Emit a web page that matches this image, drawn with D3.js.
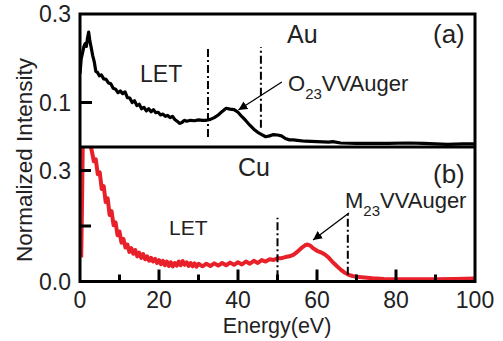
<!DOCTYPE html>
<html>
<head>
<meta charset="utf-8">
<script src="https://cdn.jsdelivr.net/npm/d3@7"></script>
<style>
  body { margin: 0; background: #fff; }
  svg { display: block; font-family: "Liberation Sans", Arial, sans-serif; }
</style>
</head>
<body>
<div id="chart"></div>
<script>
// Au (a) spectrum, black
const auEnergy = [0, 0.3, 0.6, 1.0, 1.3, 1.6, 1.9, 2.2, 2.5, 2.8, 3.2, 3.6, 4.0, 4.4, 4.9, 5.4, 6.0, 6.6, 7.2, 7.8, 8.4, 9.0, 9.6, 10.2, 10.8, 11.4, 12.0, 12.6, 13.2, 13.8, 14.4, 15.0, 15.6, 16.2, 16.8, 17.4, 18.0, 18.6, 19.2, 19.8, 20.4, 21.0, 21.6, 22.2, 22.8, 23.4, 24.0, 24.6, 25.2, 25.8, 26.4, 27.0, 28, 29, 30, 31, 32, 33, 34, 35, 36, 37, 38, 39, 40, 41, 42, 43, 44, 45, 46, 47, 48, 49, 50, 51, 52, 53, 54, 55, 57, 60, 63, 64, 66, 70, 74, 78, 83, 87, 90, 93, 97, 100]
const auIntensity = [0.165, 0.198, 0.21, 0.226, 0.232, 0.226, 0.245, 0.258, 0.238, 0.225, 0.206, 0.192, 0.17, 0.168, 0.16, 0.162, 0.153, 0.152, 0.144, 0.142, 0.132, 0.13, 0.122, 0.126, 0.12, 0.124, 0.111, 0.11, 0.1, 0.104, 0.093, 0.096, 0.086, 0.089, 0.081, 0.086, 0.079, 0.084, 0.077, 0.078, 0.072, 0.074, 0.069, 0.071, 0.066, 0.069, 0.062, 0.058, 0.053, 0.055, 0.06, 0.058, 0.06, 0.059, 0.061, 0.06, 0.06, 0.062, 0.066, 0.072, 0.08, 0.087, 0.085, 0.084, 0.078, 0.068, 0.059, 0.049, 0.04, 0.033, 0.028, 0.023, 0.025, 0.028, 0.027, 0.025, 0.019, 0.016, 0.016, 0.015, 0.013, 0.012, 0.011, 0.012, 0.009, 0.008, 0.008, 0.008, 0.009, 0.008, 0.007, 0.006, 0.007, 0.007]

// Cu (b) spectrum, red
const cuEnergy = [0.3, 0.5, 0.7, 1.0, 1.5, 2.0, 2.5, 3.0, 3.5, 4.0, 4.5, 5.0, 5.5, 6.0, 6.5, 7.0, 7.5, 8.0, 8.5, 9.0, 9.5, 10.0, 10.5, 11.0, 11.5, 12.0, 12.5, 13.0, 13.5, 14.0, 14.5, 15.0, 15.5, 16.0, 16.5, 17.0, 17.5, 18.0, 18.5, 19.0, 19.5, 20.0, 20.5, 21, 21.5, 22, 22.5, 23, 23.5, 24, 24.5, 25, 25.5, 26, 26.5, 27, 27.5, 28, 28.5, 29, 29.5, 30, 31, 32, 33, 34, 35, 36, 37, 38, 39, 40, 41, 42, 43, 44, 45, 46, 47, 48, 49, 50, 51, 52, 53, 54, 55, 56, 57, 57.6, 58.3, 59, 60, 61, 62, 63, 64, 65, 66, 67, 68, 69, 70, 72, 74, 77, 80, 85, 90, 95, 100]
const cuIntensity = [0.065, 0.2, 0.37, 0.38, 0.38, 0.38, 0.375, 0.352, 0.325, 0.33, 0.29, 0.295, 0.25, 0.258, 0.215, 0.225, 0.18, 0.19, 0.152, 0.16, 0.125, 0.135, 0.105, 0.115, 0.092, 0.1, 0.08, 0.09, 0.075, 0.085, 0.068, 0.078, 0.064, 0.074, 0.06, 0.068, 0.056, 0.064, 0.054, 0.061, 0.05, 0.058, 0.047, 0.056, 0.044, 0.054, 0.042, 0.052, 0.041, 0.05, 0.043, 0.054, 0.044, 0.055, 0.045, 0.052, 0.042, 0.05, 0.041, 0.049, 0.04, 0.048, 0.041, 0.048, 0.042, 0.049, 0.043, 0.05, 0.044, 0.051, 0.045, 0.052, 0.046, 0.054, 0.048, 0.056, 0.05, 0.058, 0.054, 0.06, 0.058, 0.063, 0.063, 0.066, 0.068, 0.072, 0.08, 0.09, 0.098, 0.1, 0.097, 0.09, 0.083, 0.079, 0.073, 0.064, 0.052, 0.042, 0.032, 0.024, 0.018, 0.015, 0.013, 0.011, 0.009, 0.007, 0.006, 0.006, 0.006, 0.007, 0.008]

// axes ticks
const xMajor = [0, 20, 40, 60, 80, 100]
const xMinor = [10, 30, 50, 70, 90]
const topTicks = [0.1]
const topLabels = [0.1, 0.3]
const botTicks = [0.15, 0.3]
const botLabels = [0.0, 0.3]

// dash-dot markers  [energy, from, to]
const auMarks = [[32.4, 0.0225, 0.225], [45.8, 0.043, 0.225]]
const cuMarks = [[50, 0.009, 0.172], [67.8, 0.018, 0.185]]

const width = 503
const height = 341
const margin = { left: 80, right: 28, top: 14, mid: 147, bottom: 281.5 }

const svg = d3.select('#chart').append('svg')
  .attr('width', width)
  .attr('height', height)

svg.append('rect').attr('width', width).attr('height', height).attr('fill', '#fff')

const x = d3.scaleLinear().domain([0, 100]).range([margin.left, width - margin.right])
const yTop = d3.scaleLinear().domain([0, 0.3]).range([margin.mid, 13.5])
const yBot = d3.scaleLinear().domain([0, 0.3]).range([margin.bottom, 170.5])

// clip paths
const defs = svg.append('defs')
defs.append('clipPath').attr('id', 'clipTop').append('rect')
  .attr('x', x(0)).attr('y', margin.top).attr('width', x(100) - x(0)).attr('height', margin.mid - margin.top)
defs.append('clipPath').attr('id', 'clipBot').append('rect')
  .attr('x', x(0)).attr('y', margin.mid).attr('width', x(100) - x(0)).attr('height', margin.bottom - margin.mid)
defs.append('marker')
  .attr('id', 'arrow')
  .attr('viewBox', '0 0 10 10')
  .attr('refX', 10).attr('refY', 5)
  .attr('markerWidth', 9).attr('markerHeight', 9)
  .attr('markerUnits', 'userSpaceOnUse')
  .attr('orient', 'auto')
  .append('path').attr('d', 'M0,0 L10,5 L0,10 z').attr('fill', '#000')

// curves
const lineTop = d3.line().x(d => x(d[0])).y(d => yTop(d[1]))
const lineBot = d3.line().x(d => x(d[0])).y(d => yBot(d[1]))

svg.append('path')
  .datum(d3.zip(auEnergy, auIntensity))
  .attr('clip-path', 'url(#clipTop)')
  .attr('d', lineTop)
  .attr('fill', 'none')
  .attr('stroke', '#000')
  .attr('stroke-width', 3.2)
  .attr('stroke-linejoin', 'round')

svg.append('path')
  .datum(d3.zip(cuEnergy, cuIntensity))
  .attr('clip-path', 'url(#clipBot)')
  .attr('d', lineBot)
  .attr('fill', 'none')
  .attr('stroke', '#e8202a')
  .attr('stroke-width', 4)
  .attr('stroke-linejoin', 'round')

// dash-dot lines
svg.selectAll('.mark-top').data(auMarks).enter().append('line')
  .attr('x1', d => x(d[0])).attr('x2', d => x(d[0]))
  .attr('y1', d => yTop(d[1])).attr('y2', d => yTop(d[2]))
  .attr('stroke', '#000').attr('stroke-width', 2)
  .attr('stroke-dasharray', '8,3,2,3')
svg.selectAll('.mark-bot').data(cuMarks).enter().append('line')
  .attr('x1', d => x(d[0])).attr('x2', d => x(d[0]))
  .attr('y1', d => yBot(d[1])).attr('y2', d => yBot(d[2]))
  .attr('stroke', '#000').attr('stroke-width', 2)
  .attr('stroke-dasharray', '8,3,2,3')

// arrows
svg.append('line')
  .attr('x1', x(51.1)).attr('y1', yTop(0.146))
  .attr('x2', x(40.1)).attr('y2', yTop(0.083))
  .attr('stroke', '#000').attr('stroke-width', 1.3)
  .attr('marker-end', 'url(#arrow)')
svg.append('line')
  .attr('x1', x(68.1)).attr('y1', yBot(0.185))
  .attr('x2', x(59)).attr('y2', yBot(0.112))
  .attr('stroke', '#000').attr('stroke-width', 1.3)
  .attr('marker-end', 'url(#arrow)')

// frames
svg.append('rect')
  .attr('x', x(0)).attr('y', margin.top)
  .attr('width', x(100) - x(0)).attr('height', margin.bottom - margin.top)
  .attr('fill', 'none').attr('stroke', '#000').attr('stroke-width', 3)
svg.append('line')
  .attr('x1', x(0)).attr('x2', x(100))
  .attr('y1', margin.mid).attr('y2', margin.mid)
  .attr('stroke', '#000').attr('stroke-width', 3)

// x ticks (inward)
svg.selectAll('.xmaj').data(xMajor.slice(1, -1)).enter().append('line')
  .attr('x1', d => x(d)).attr('x2', d => x(d))
  .attr('y1', margin.bottom).attr('y2', margin.bottom - 12)
  .attr('stroke', '#000').attr('stroke-width', 3)
svg.selectAll('.xmin').data(xMinor).enter().append('line')
  .attr('x1', d => x(d)).attr('x2', d => x(d))
  .attr('y1', margin.bottom).attr('y2', margin.bottom - 7)
  .attr('stroke', '#000').attr('stroke-width', 3)

// y ticks (inward)
svg.selectAll('.ytop').data(topTicks).enter().append('line')
  .attr('x1', x(0)).attr('x2', x(0) + 12)
  .attr('y1', d => yTop(d)).attr('y2', d => yTop(d))
  .attr('stroke', '#000').attr('stroke-width', 3)
svg.selectAll('.ybot').data(botTicks).enter().append('line')
  .attr('x1', x(0)).attr('x2', x(0) + 11)
  .attr('y1', d => yBot(d)).attr('y2', d => yBot(d))
  .attr('stroke', '#000').attr('stroke-width', 3)

// tick labels
const fmt = d3.format('.1f')
svg.selectAll('.xlab').data(xMajor).enter().append('text')
  .attr('x', d => x(d)).attr('y', 308)
  .attr('text-anchor', 'middle')
  .attr('font-size', 23)
  .attr('fill', '#222')
  .text(d => d)
svg.selectAll('.ltop').data(topLabels).enter().append('text')
  .attr('x', 71).attr('y', d => yTop(d))
  .attr('dy', '0.36em')
  .attr('text-anchor', 'end')
  .attr('font-size', 23)
  .attr('fill', '#222')
  .text(fmt)
svg.selectAll('.lbot').data(botLabels).enter().append('text')
  .attr('x', 71).attr('y', d => yBot(d))
  .attr('dy', '0.36em')
  .attr('text-anchor', 'end')
  .attr('font-size', 23)
  .attr('fill', '#222')
  .text(fmt)

// axis titles
svg.append('text')
  .attr('x', 277).attr('y', 333)
  .attr('text-anchor', 'middle')
  .attr('font-size', 21.5)
  .attr('fill', '#222')
  .text('Energy(eV)')
svg.append('text')
  .attr('transform', 'translate(32,160) rotate(-90)')
  .attr('text-anchor', 'middle')
  .attr('font-size', 22.5)
  .attr('fill', '#222')
  .text('Normalized Intensity')

// annotations
const note = (tx, ty, size, txt) => svg.append('text')
  .attr('x', tx).attr('y', ty)
  .attr('font-size', size)
  .attr('fill', '#222')
  .text(txt)

note(140, 82, 23, 'LET')
note(169, 235, 21, 'LET')
note(287, 43, 25, 'Au')
note(433, 43, 26, '(a)')
note(238, 176, 25, 'Cu')
note(433, 183, 26, '(b)')

const auger = (tx, ty, head) => {
  const t = svg.append('text').attr('x', tx).attr('y', ty)
    .attr('font-size', 22).attr('fill', '#222')
  t.append('tspan').text(head)
  t.append('tspan').attr('font-size', 15).attr('dy', 8).text('23')
  t.append('tspan').attr('dy', -8).text('VVAuger')
}
auger(288, 91, 'O')
auger(345, 208, 'M')
</script>
</body>
</html>
